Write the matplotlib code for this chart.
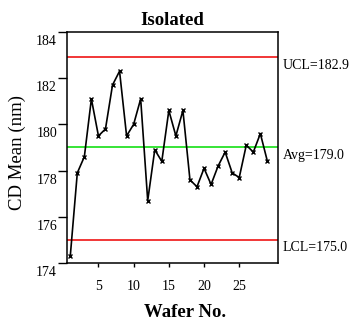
import matplotlib
matplotlib.use("Agg")
import matplotlib.pyplot as plt
import matplotlib.transforms as mtransforms

wafer = list(range(1, 30))
cd_mean = [174.3, 177.9, 178.6, 181.1, 179.5, 179.8, 181.7, 182.3, 179.5, 180.0,
           181.1, 176.7, 178.9, 178.4, 180.6, 179.5, 180.6, 177.6, 177.3, 178.1,
           177.4, 178.2, 178.8, 177.9, 177.7, 179.1, 178.8, 179.6, 178.4]
ucl = 182.9
avg = 179.0
lcl = 175.0
limit_labels = ["UCL=182.9", "Avg=179.0", "LCL=175.0"]
xticks = [5, 10, 15, 20, 25]
yticks = [174, 176, 178, 180, 182, 184]

plt.rcParams['font.family'] = ['Liberation Serif', 'DejaVu Serif']

fig = plt.figure(figsize=(3.55, 3.22), dpi=100)
ax = fig.add_axes([0.19, 0.183, 0.593, 0.718])

ax.axhline(ucl, color='#ee0000', lw=1.1, zorder=1)
ax.axhline(avg, color='#00dd00', lw=1.1, zorder=1)
ax.axhline(lcl, color='#ee0000', lw=1.1, zorder=1)
ax.plot(wafer, cd_mean, color='black', lw=1.2, marker='x', ms=3, mew=1, zorder=3)

ax.set_xlim(0.6, 30.5)
ax.set_ylim(174, 184)
ax.set_xticks(xticks)
ax.set_yticks(yticks)
ax.tick_params(axis='x', direction='out', length=3, width=1, labelsize=10, pad=9)
ax.tick_params(axis='y', direction='out', length=6.5, width=1, labelsize=10, pad=1)
for s in ax.spines.values():
    s.set_linewidth(1.1)

off = mtransforms.ScaledTranslation(0, -0.08, fig.dpi_scale_trans)
for lab in ax.get_yticklabels():
    lab.set_transform(lab.get_transform() + off)

for val, txt in zip([ucl, avg, lcl], limit_labels):
    ax.annotate(txt, xy=(1.0, val), xycoords=('axes fraction', 'data'),
                xytext=(5, -8), textcoords='offset pixels',
                ha='left', va='center', fontsize=10)

ax.set_title("Isolated", fontsize=13.5, fontweight='bold', pad=5)
ax.set_xlabel("Wafer No.", fontsize=13.5, fontweight='bold')
ax.xaxis.set_label_coords(0.559, -0.178)
ax.set_ylabel("CD Mean (nm)", fontsize=13.5)
ax.yaxis.set_label_coords(-0.195, 0.48)

fig.savefig("out.png", dpi=100)
